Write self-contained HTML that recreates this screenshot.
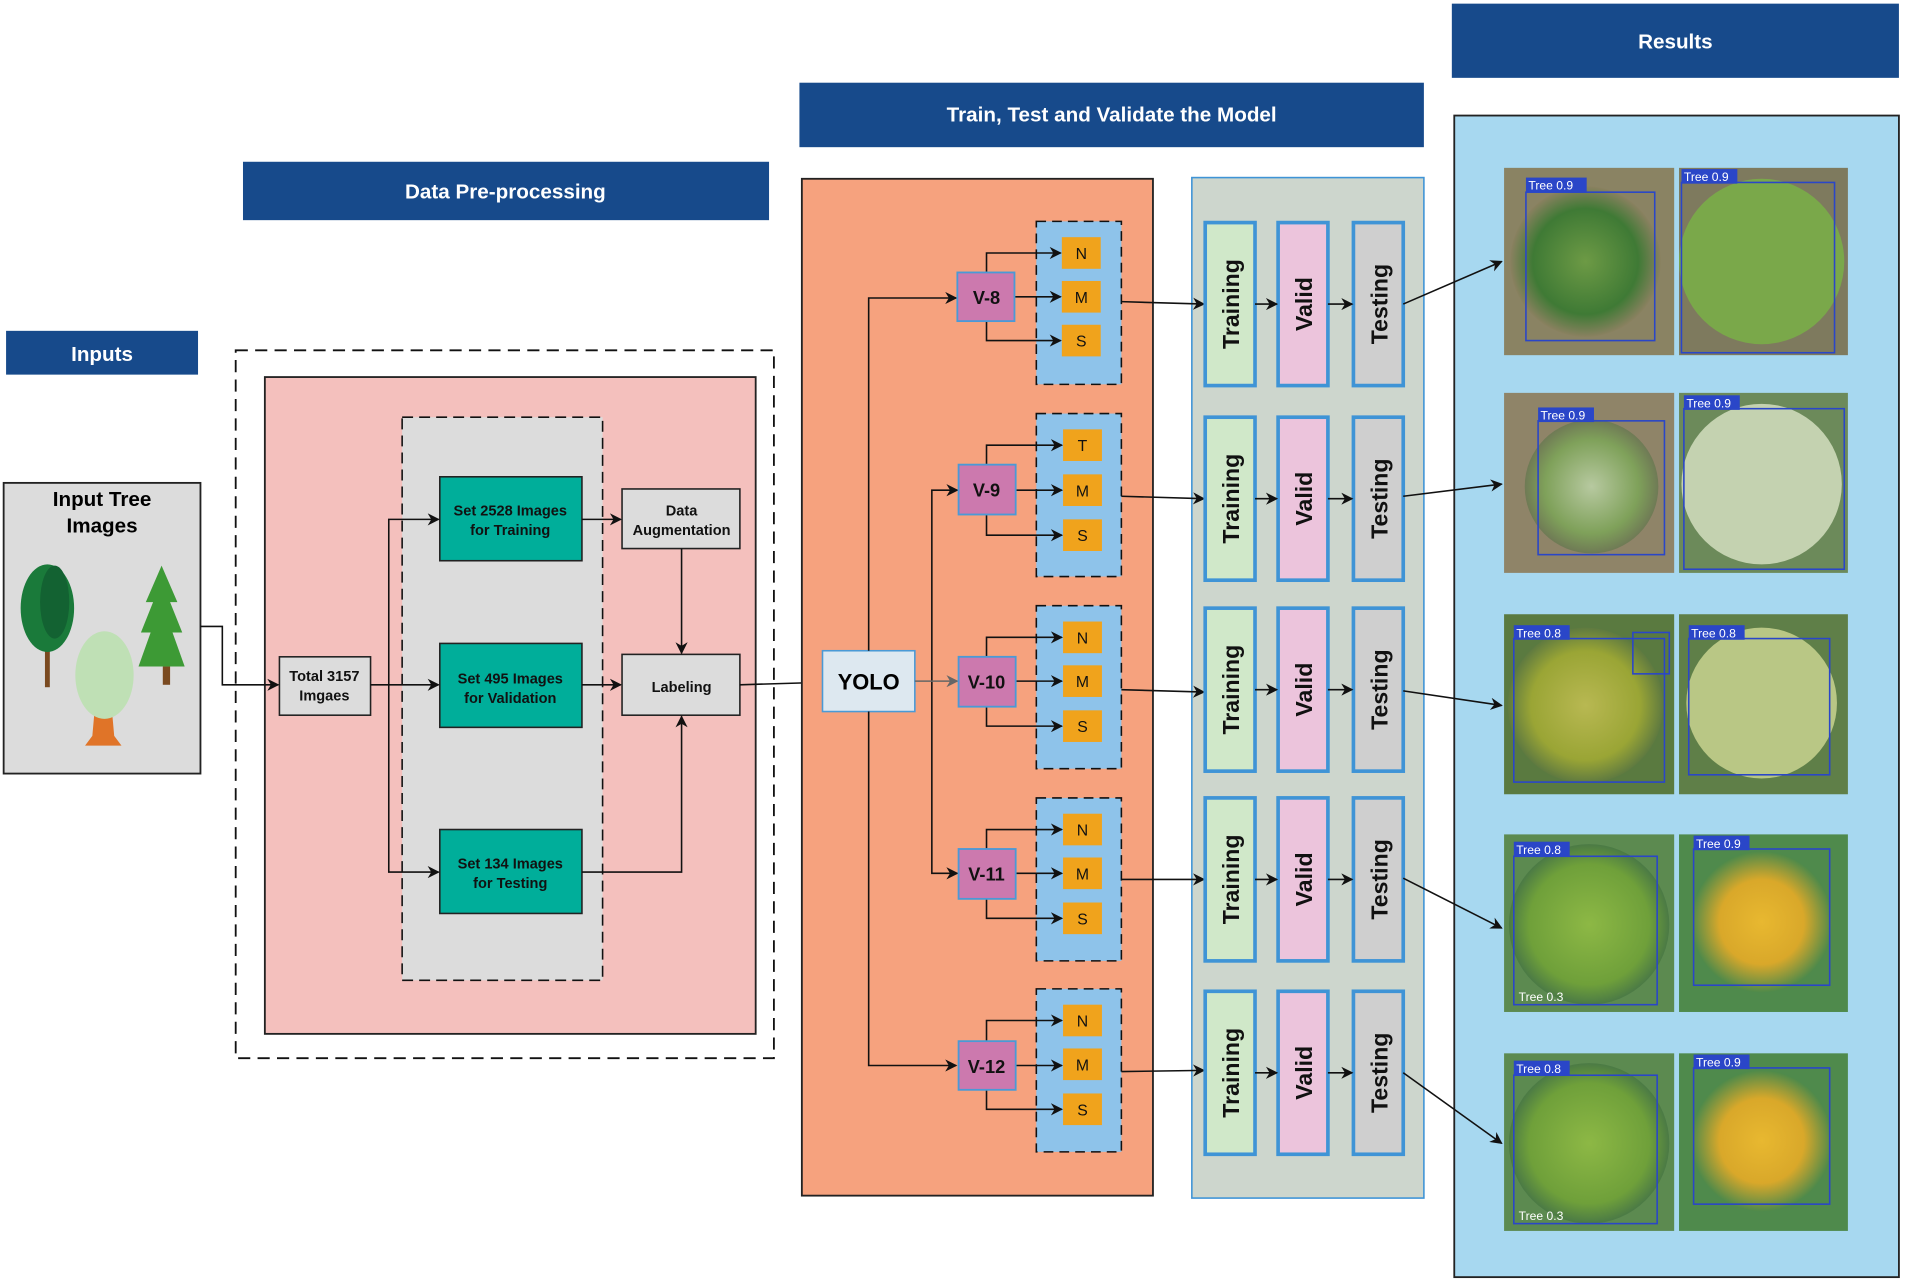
<!DOCTYPE html>
<html><head><meta charset="utf-8"><style>html,body{margin:0;padding:0;background:#fff}svg{display:block}text{font-family:"Liberation Sans",sans-serif}</style></head>
<body>
<svg width="1905" height="1282" viewBox="0 0 1568 1054" preserveAspectRatio="none" xmlns="http://www.w3.org/2000/svg">
<defs>
<marker id="a" markerWidth="10" markerHeight="10" refX="9" refY="5" orient="auto" markerUnits="userSpaceOnUse"><path d="M0,0 L10,5 L0,10 L3,5 z" fill="#111"/></marker>
<marker id="g" markerWidth="10" markerHeight="10" refX="9" refY="5" orient="auto" markerUnits="userSpaceOnUse"><path d="M0,0 L10,5 L0,10 L3,5 z" fill="#666"/></marker>
<radialGradient id="t1"><stop offset="0" stop-color="#6d9a45"/><stop offset="0.7" stop-color="#3f7a35"/><stop offset="1" stop-color="#8a8160"/></radialGradient>
<radialGradient id="t2"><stop offset="0" stop-color="#b7c9a0"/><stop offset="0.7" stop-color="#7fa15a"/><stop offset="1" stop-color="#6f7a55"/></radialGradient>
<radialGradient id="t3"><stop offset="0" stop-color="#b8b852"/><stop offset="0.7" stop-color="#9aa535"/><stop offset="1" stop-color="#5f7a40"/></radialGradient>
<radialGradient id="t4"><stop offset="0" stop-color="#8db845"/><stop offset="0.75" stop-color="#6fa03a"/><stop offset="1" stop-color="#4b7a45"/></radialGradient>
<radialGradient id="t5"><stop offset="0" stop-color="#e8b830"/><stop offset="0.6" stop-color="#d9a82a"/><stop offset="1" stop-color="#4f8a4a"/></radialGradient>
</defs>
<g stroke="#111" stroke-width="1.2" fill="none">
<!-- headers -->
<rect x="5" y="272" width="158" height="36" fill="#174a8b" stroke="none"/>
<rect x="200" y="133" width="433" height="48" fill="#174a8b" stroke="none"/>
<rect x="658" y="68" width="514" height="53" fill="#174a8b" stroke="none"/>
<rect x="1195" y="3" width="368" height="61" fill="#174a8b" stroke="none"/>
</g>
<g font-weight="bold" fill="#fff" font-size="17" text-anchor="middle">
<text x="84" y="297">Inputs</text>
<text x="416" y="163">Data Pre-processing</text>
<text x="915" y="100">Train, Test and Validate the Model</text>
<text x="1379" y="40">Results</text>
</g>
<!-- inputs box -->
<rect x="3" y="397" width="162" height="239" fill="#dcdcdc" stroke="#222" stroke-width="1.5"/>
<text x="84" y="416" font-size="17" font-weight="bold" text-anchor="middle">Input Tree</text>
<text x="84" y="438" font-size="17" font-weight="bold" text-anchor="middle">Images</text>
<!-- trees -->
<rect x="37" y="510" width="4" height="55" fill="#7a4a20"/>
<ellipse cx="39" cy="500" rx="22" ry="36" fill="#1a7a3a"/>
<ellipse cx="45" cy="495" rx="12" ry="30" fill="#136232"/>
<path d="M80 560 L76 605 L70 613 L100 613 L94 605 L90 560z" fill="#e07428"/>
<ellipse cx="86" cy="555" rx="24" ry="36" fill="#bfe0b5"/>
<path d="M133 465 L120 495 L126 495 L116 520 L124 520 L114 548 L152 548 L142 520 L150 520 L140 495 L146 495z" fill="#3d9a35"/>
<rect x="134" y="548" width="6" height="15" fill="#7a4a20"/>
<!-- preprocessing -->
<rect x="194" y="288" width="443" height="582" fill="none" stroke="#111" stroke-width="1.5" stroke-dasharray="10,6"/>
<rect x="218" y="310" width="404" height="540" fill="#f4c0bd" stroke="#222" stroke-width="1.5"/>
<rect x="331" y="343" width="165" height="463" fill="#dcdcdc" stroke="#111" stroke-width="1.3" stroke-dasharray="9,5"/>
<g stroke="#222" stroke-width="1.3">
<rect x="230" y="540" width="75" height="48" fill="#dcdcdc"/>
<rect x="362" y="392" width="117" height="69" fill="#00ae9a"/>
<rect x="362" y="529" width="117" height="69" fill="#00ae9a"/>
<rect x="362" y="682" width="117" height="69" fill="#00ae9a"/>
<rect x="512" y="402" width="97" height="49" fill="#dcdcdc"/>
<rect x="512" y="538" width="97" height="50" fill="#dcdcdc"/>
</g>
<g font-size="12" font-weight="bold" text-anchor="middle" fill="#111">
<text x="267" y="560">Total 3157</text><text x="267" y="576">Imgaes</text>
<text x="420" y="424">Set 2528 Images</text><text x="420" y="440">for Training</text>
<text x="420" y="562">Set 495 Images</text><text x="420" y="578">for Validation</text>
<text x="420" y="714">Set 134 Images</text><text x="420" y="730">for Testing</text>
<text x="561" y="424">Data</text><text x="561" y="440">Augmentation</text>
<text x="561" y="569">Labeling</text>
</g>
<g stroke="#111" stroke-width="1.3" fill="none">
<path d="M165 515 H183 V563 H229" marker-end="url(#a)"/>
<path d="M305 563 H361" marker-end="url(#a)"/>
<path d="M320 563 V427 H361" marker-end="url(#a)"/>
<path d="M320 563 V717 H361" marker-end="url(#a)"/>
<path d="M479 427 H511" marker-end="url(#a)"/>
<path d="M479 563 H511" marker-end="url(#a)"/>
<path d="M479 717 H561 V589" marker-end="url(#a)"/>
<path d="M561 451 V537" marker-end="url(#a)"/>
<path d="M609 563 L676 561" marker-end="url(#a)"/>
</g>
<!-- model -->
<rect x="660" y="147" width="289" height="836" fill="#f6a27e" stroke="#222" stroke-width="1.5"/>
<rect x="981" y="146" width="191" height="839" fill="#cdd6cd" stroke="#3f94d6" stroke-width="1.3"/>
<rect x="677" y="535" width="76" height="50" fill="#dde8f0" stroke="#4a9ad6" stroke-width="1.3"/>
<text x="715" y="567" font-size="18" font-weight="bold" text-anchor="middle">YOLO</text>
<g stroke="#111" stroke-width="1.3" fill="none">
<path d="M715 535 V245 H787" marker-end="url(#a)"/>
<path d="M715 585 V876 H787" marker-end="url(#a)"/>
<path d="M767 560 V403 H788" marker-end="url(#a)"/>
<path d="M767 560 V718 H788" marker-end="url(#a)"/>
<path d="M753 560 H788" stroke="#666" marker-end="url(#g)"/>
</g>
<g id="rows">
</g>
<!-- rows generated inline -->
<g stroke-width="1.3">
<!-- row template values: y0 group top, c center -->
</g>
<g>
<!-- Row 1 -->
<rect x="853" y="182" width="70" height="134" fill="#8ec3ea" stroke="#111" stroke-dasharray="8,5" stroke-width="1.3"/>
<rect x="853" y="340" width="70" height="134" fill="#8ec3ea" stroke="#111" stroke-dasharray="8,5" stroke-width="1.3"/>
<rect x="853" y="498" width="70" height="134" fill="#8ec3ea" stroke="#111" stroke-dasharray="8,5" stroke-width="1.3"/>
<rect x="853" y="656" width="70" height="134" fill="#8ec3ea" stroke="#111" stroke-dasharray="8,5" stroke-width="1.3"/>
<rect x="853" y="813" width="70" height="134" fill="#8ec3ea" stroke="#111" stroke-dasharray="8,5" stroke-width="1.3"/>
<g fill="#f0a31c">
<rect x="874" y="195" width="32" height="26"/><rect x="874" y="231" width="32" height="26"/><rect x="874" y="267" width="32" height="26"/>
<rect x="875" y="353" width="32" height="26"/><rect x="875" y="390" width="32" height="26"/><rect x="875" y="427" width="32" height="26"/>
<rect x="875" y="511" width="32" height="26"/><rect x="875" y="547" width="32" height="26"/><rect x="875" y="584" width="32" height="26"/>
<rect x="875" y="669" width="32" height="26"/><rect x="875" y="705" width="32" height="26"/><rect x="875" y="742" width="32" height="26"/>
<rect x="875" y="826" width="32" height="26"/><rect x="875" y="862" width="32" height="26"/><rect x="875" y="899" width="32" height="26"/>
</g>
<g font-size="13" text-anchor="middle" fill="#111">
<text x="890" y="213">N</text><text x="890" y="249">M</text><text x="890" y="285">S</text>
<text x="891" y="371">T</text><text x="891" y="408">M</text><text x="891" y="445">S</text>
<text x="891" y="529">N</text><text x="891" y="565">M</text><text x="891" y="602">S</text>
<text x="891" y="687">N</text><text x="891" y="723">M</text><text x="891" y="760">S</text>
<text x="891" y="844">N</text><text x="891" y="880">M</text><text x="891" y="917">S</text>
</g>
<g stroke="#111" stroke-width="1.3" fill="none">
<path d="M812 224 V208 H873" marker-end="url(#a)"/><path d="M835 244 H873" marker-end="url(#a)"/><path d="M812 264 V280 H873" marker-end="url(#a)"/>
<path d="M812 382 V366 H874" marker-end="url(#a)"/><path d="M836 403 H874" marker-end="url(#a)"/><path d="M812 423 V440 H874" marker-end="url(#a)"/>
<path d="M812 540 V524 H874" marker-end="url(#a)"/><path d="M836 560 H874" marker-end="url(#a)"/><path d="M812 581 V597 H874" marker-end="url(#a)"/>
<path d="M812 698 V682 H874" marker-end="url(#a)"/><path d="M836 718 H874" marker-end="url(#a)"/><path d="M812 739 V755 H874" marker-end="url(#a)"/>
<path d="M812 856 V839 H874" marker-end="url(#a)"/><path d="M836 876 H874" marker-end="url(#a)"/><path d="M812 896 V912 H874" marker-end="url(#a)"/>
<path d="M923 248 L991 250" marker-end="url(#a)"/>
<path d="M923 408 L991 410" marker-end="url(#a)"/>
<path d="M923 567 L991 569" marker-end="url(#a)"/>
<path d="M923 723 L991 723" marker-end="url(#a)"/>
<path d="M923 881 L991 880" marker-end="url(#a)"/>
</g>
<g fill="#cc79ae" stroke="#4a9ad6" stroke-width="1.5">
<rect x="788" y="224" width="47" height="40"/><rect x="789" y="382" width="47" height="41"/><rect x="789" y="540" width="47" height="41"/><rect x="789" y="698" width="47" height="41"/><rect x="789" y="856" width="47" height="40"/>
</g>
<g font-size="15" font-weight="bold" text-anchor="middle" fill="#111">
<text x="812" y="250">V-8</text><text x="812" y="408">V-9</text><text x="812" y="566">V-10</text><text x="812" y="724">V-11</text><text x="812" y="882">V-12</text>
</g>
</g>
<!-- training columns -->
<g stroke="#3f94d6" stroke-width="3">
<rect x="992" y="183" width="41" height="134" fill="#d0e8c9"/><rect x="1052" y="183" width="41" height="134" fill="#ecc4dc"/><rect x="1114" y="183" width="41" height="134" fill="#cfcfcf"/>
<rect x="992" y="343" width="41" height="134" fill="#d0e8c9"/><rect x="1052" y="343" width="41" height="134" fill="#ecc4dc"/><rect x="1114" y="343" width="41" height="134" fill="#cfcfcf"/>
<rect x="992" y="500" width="41" height="134" fill="#d0e8c9"/><rect x="1052" y="500" width="41" height="134" fill="#ecc4dc"/><rect x="1114" y="500" width="41" height="134" fill="#cfcfcf"/>
<rect x="992" y="656" width="41" height="134" fill="#d0e8c9"/><rect x="1052" y="656" width="41" height="134" fill="#ecc4dc"/><rect x="1114" y="656" width="41" height="134" fill="#cfcfcf"/>
<rect x="992" y="815" width="41" height="134" fill="#d0e8c9"/><rect x="1052" y="815" width="41" height="134" fill="#ecc4dc"/><rect x="1114" y="815" width="41" height="134" fill="#cfcfcf"/>
</g>
<g font-size="19" font-weight="bold" text-anchor="middle" fill="#111">
<text transform="translate(1020,250) rotate(-90)">Training</text><text transform="translate(1080,250) rotate(-90)">Valid</text><text transform="translate(1142,250) rotate(-90)">Testing</text>
<text transform="translate(1020,410) rotate(-90)">Training</text><text transform="translate(1080,410) rotate(-90)">Valid</text><text transform="translate(1142,410) rotate(-90)">Testing</text>
<text transform="translate(1020,567) rotate(-90)">Training</text><text transform="translate(1080,567) rotate(-90)">Valid</text><text transform="translate(1142,567) rotate(-90)">Testing</text>
<text transform="translate(1020,723) rotate(-90)">Training</text><text transform="translate(1080,723) rotate(-90)">Valid</text><text transform="translate(1142,723) rotate(-90)">Testing</text>
<text transform="translate(1020,882) rotate(-90)">Training</text><text transform="translate(1080,882) rotate(-90)">Valid</text><text transform="translate(1142,882) rotate(-90)">Testing</text>
</g>
<g stroke="#111" stroke-width="1.3" fill="none">
<path d="M1033 250 H1051" marker-end="url(#a)"/><path d="M1093 250 H1113" marker-end="url(#a)"/>
<path d="M1033 410 H1051" marker-end="url(#a)"/><path d="M1093 410 H1113" marker-end="url(#a)"/>
<path d="M1033 567 H1051" marker-end="url(#a)"/><path d="M1093 567 H1113" marker-end="url(#a)"/>
<path d="M1033 723 H1051" marker-end="url(#a)"/><path d="M1093 723 H1113" marker-end="url(#a)"/>
<path d="M1033 882 H1051" marker-end="url(#a)"/><path d="M1093 882 H1113" marker-end="url(#a)"/>
</g>
<!-- results -->
<rect x="1197" y="95" width="366" height="955" fill="#a7d8f0" stroke="#222" stroke-width="1.5"/>
<g>
<rect x="1238" y="138" width="140" height="154" fill="#8a8363"/><circle cx="1305" cy="215" r="62" fill="url(#t1)"/>
<rect x="1382" y="138" width="139" height="154" fill="#7e7a5e"/><circle cx="1450" cy="215" r="68" fill="#7aa84a"/>
<rect x="1238" y="323" width="140" height="148" fill="#8f8468"/><circle cx="1310" cy="400" r="55" fill="url(#t2)"/>
<rect x="1382" y="323" width="139" height="148" fill="#6c8a5a"/><circle cx="1450" cy="398" r="66" fill="#c4d2b0"/>
<rect x="1238" y="505" width="140" height="148" fill="#5a7a40"/><circle cx="1305" cy="580" r="64" fill="url(#t3)"/>
<rect x="1382" y="505" width="139" height="148" fill="#5f7f48"/><circle cx="1450" cy="578" r="62" fill="#b9c785"/>
<rect x="1238" y="686" width="140" height="146" fill="#5c8a50"/><circle cx="1308" cy="760" r="66" fill="url(#t4)"/>
<rect x="1382" y="686" width="139" height="146" fill="#4f8a4c"/><circle cx="1450" cy="758" r="58" fill="url(#t5)"/>
<rect x="1238" y="866" width="140" height="146" fill="#5c8a50"/><circle cx="1308" cy="940" r="66" fill="url(#t4)"/>
<rect x="1382" y="866" width="139" height="146" fill="#4f8a4c"/><circle cx="1450" cy="938" r="58" fill="url(#t5)"/>
</g>
<g fill="none" stroke="#2a46c8" stroke-width="1.3">
<rect x="1256" y="158" width="106" height="122"/><rect x="1384" y="150" width="126" height="140"/>
<rect x="1266" y="346" width="104" height="110"/><rect x="1386" y="336" width="132" height="132"/>
<rect x="1246" y="525" width="124" height="118"/><rect x="1390" y="525" width="116" height="112"/><rect x="1344" y="520" width="30" height="34"/>
<rect x="1246" y="704" width="118" height="122"/><rect x="1394" y="698" width="112" height="112"/>
<rect x="1246" y="884" width="118" height="122"/><rect x="1394" y="878" width="112" height="112"/>
</g>
<g font-size="10" fill="#fff">
<rect x="1256" y="146" width="50" height="12" fill="#2a46c8"/><text x="1258" y="156">Tree 0.9</text>
<rect x="1384" y="139" width="46" height="12" fill="#2a46c8"/><text x="1386" y="149">Tree 0.9</text>
<rect x="1266" y="335" width="46" height="12" fill="#2a46c8"/><text x="1268" y="345">Tree 0.9</text>
<rect x="1386" y="325" width="46" height="12" fill="#2a46c8"/><text x="1388" y="335">Tree 0.9</text>
<rect x="1246" y="514" width="46" height="12" fill="#2a46c8"/><text x="1248" y="524">Tree 0.8</text>
<rect x="1390" y="514" width="46" height="12" fill="#2a46c8"/><text x="1392" y="524">Tree 0.8</text>
<rect x="1246" y="692" width="46" height="12" fill="#2a46c8"/><text x="1248" y="702">Tree 0.8</text>
<rect x="1394" y="687" width="46" height="12" fill="#2a46c8"/><text x="1396" y="697">Tree 0.9</text>
<text x="1250" y="823">Tree 0.3</text>
<rect x="1246" y="872" width="46" height="12" fill="#2a46c8"/><text x="1248" y="882">Tree 0.8</text>
<rect x="1394" y="867" width="46" height="12" fill="#2a46c8"/><text x="1396" y="877">Tree 0.9</text>
<text x="1250" y="1003">Tree 0.3</text>
</g>
<g stroke="#111" stroke-width="1.3" fill="none">
<path d="M1155 250 L1236 215" marker-end="url(#a)"/>
<path d="M1155 408 L1236 398" marker-end="url(#a)"/>
<path d="M1155 568 L1236 580" marker-end="url(#a)"/>
<path d="M1155 722 L1236 763" marker-end="url(#a)"/>
<path d="M1155 882 L1236 940" marker-end="url(#a)"/>
</g>
</svg>
</body></html>
